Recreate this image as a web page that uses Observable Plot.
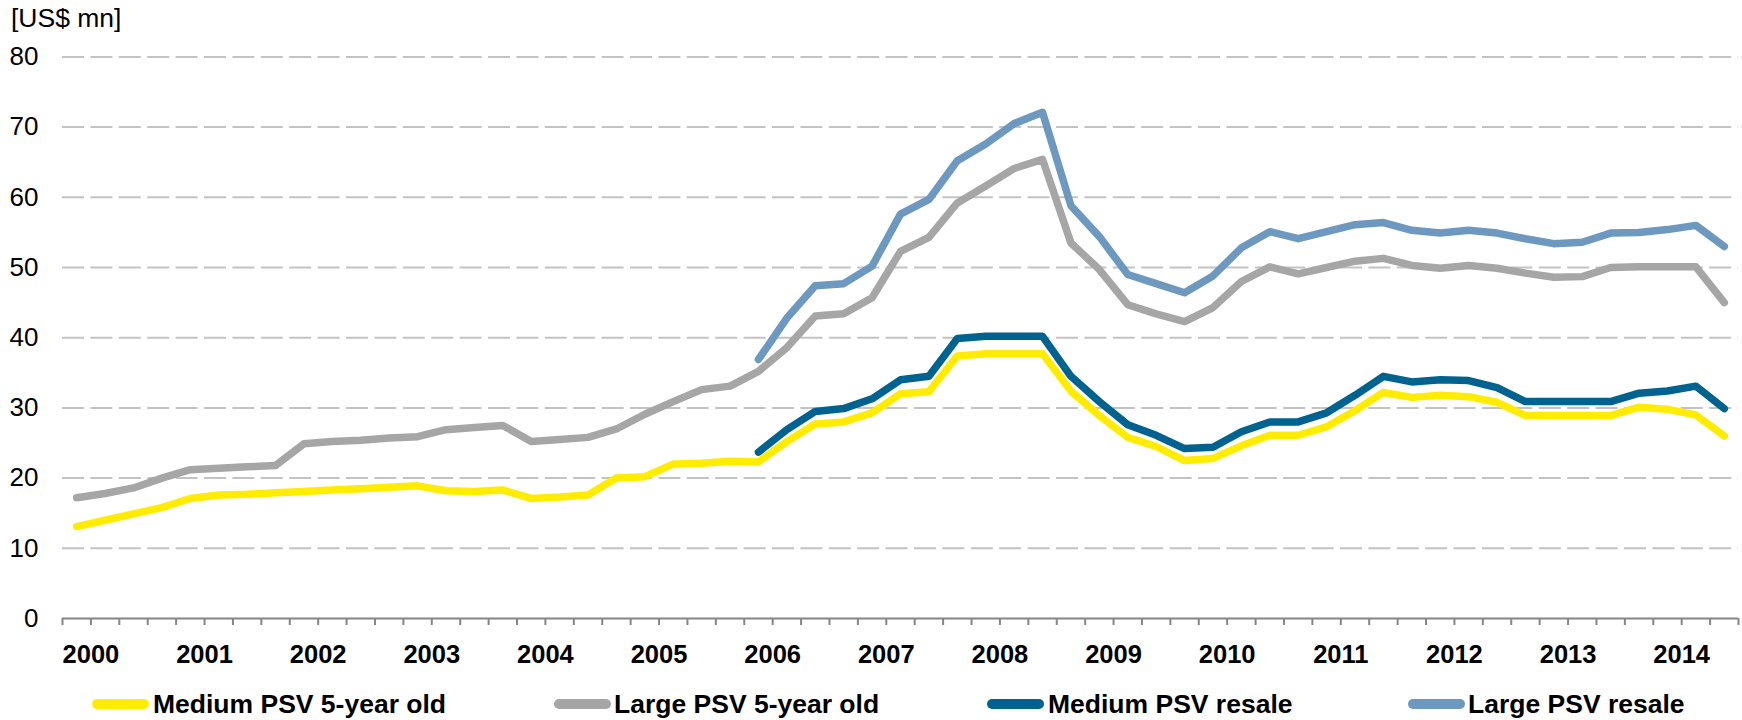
<!DOCTYPE html>
<html>
<head>
<meta charset="utf-8">
<script src="https://cdn.jsdelivr.net/npm/d3@7"></script>
<script src="https://cdn.jsdelivr.net/npm/@observablehq/plot@0.6"></script>
<style>
  html, body { margin: 0; padding: 0; background: #fff; }
  #wrap { width: 1742px; height: 720px; position: relative; overflow: hidden;
          font-family: "Liberation Sans", Arial, Helvetica, sans-serif; color: #000; }
  #title { height: 36px; line-height: 36px; padding-left: 11px; font-size: 26.5px; }
  #chart svg { display: block; }
  #chart svg [aria-label="x-axis tick label"] text { font-weight: bold; }
  #legend { position: relative; height: 50px; }
  .sw { position: absolute; width: 57px; height: 10px; border-radius: 5px; top: 29px; }
  .lt { position: absolute; top: 19px; font-size: 26.5px; font-weight: bold; line-height: 30px; white-space: nowrap; }
</style>
</head>
<body>
<div id="wrap">
  <div id="title">[US$ mn]</div>
  <div id="chart"></div>
  <div id="legend"></div>
</div>
<script>
// ---- data (quarterly categories) ----
const seriesNames = ["Medium PSV 5-year old", "Large PSV 5-year old", "Medium PSV resale", "Large PSV resale"];
const seriesColors = ["#FFEC00", "#A6A6A6", "#00628F", "#6D98BF"];

const yearLabels = ["2000","2001","2002","2003","2004","2005","2006","2007","2008","2009","2010","2011","2012","2013","2014"];
const yTicks = [0, 10, 20, 30, 40, 50, 60, 70, 80];

const mediumOld = [13.1,14.0,14.9,15.8,17.1,17.6,17.7,17.9,18.1,18.3,18.5,18.7,18.9,18.2,18.1,18.3,17.1,17.3,17.6,20.0,
  20.2,22.0,22.1,22.4,22.3,25.2,27.7,28.0,29.3,32.0,32.3,37.4,37.7,37.7,37.7,32.4,28.9,25.8,24.5,22.5,
  22.8,24.6,26.1,26.1,27.3,29.6,32.2,31.5,31.8,31.6,30.8,28.9,28.9,28.9,28.9,30.1,29.8,29.0,26.0];
const largeOld = [17.2,17.8,18.6,20.0,21.2,21.4,21.6,21.8,24.9,25.2,25.4,25.7,25.9,26.9,27.2,27.5,25.2,25.5,25.8,27.0,
  29.1,30.9,32.6,33.1,35.2,38.6,43.1,43.4,45.7,52.3,54.3,59.2,61.6,64.1,65.4,53.5,49.7,44.7,43.4,42.3,
  44.3,48.0,50.1,49.1,50.0,50.9,51.3,50.3,49.9,50.3,49.9,49.2,48.6,48.7,50.0,50.1,50.1,50.1,45.0];
// resale series start at quarter index 24
const resaleStart = 24;
const mediumResale = [23.7,26.9,29.5,29.9,31.3,34.0,34.5,39.9,40.2,40.2,40.2,34.5,30.9,27.6,26.1,24.2,24.4,26.6,28.0,28.0,
  29.3,31.8,34.5,33.7,34.0,33.9,32.9,30.9,30.9,30.9,30.9,32.1,32.4,33.1,29.9];
const largeResale = [36.9,42.8,47.4,47.7,50.2,57.6,59.7,65.2,67.6,70.5,72.1,58.8,54.4,49.0,47.7,46.4,48.8,52.8,55.1,54.1,
  55.1,56.1,56.4,55.3,54.9,55.3,54.9,54.1,53.4,53.6,54.9,55.0,55.4,56.0,53.0];

const nCategories = mediumOld.length; // 59 quarters

// ---- build table ----
const seriesValues = [[mediumOld, 0], [largeOld, 0], [mediumResale, resaleStart], [largeResale, resaleStart]];
const rows = [];
seriesValues.forEach(([vals, start], s) => {
  vals.forEach((v, j) => rows.push({ q: start + j, x: start + j + 0.5, v, s: seriesNames[s] }));
});

// year labels sit on every 4th tick boundary starting at boundary 1
const labelPos = yearLabels.map((_, k) => 1 + 4 * k);
const labelAt = new Map(labelPos.map((p, k) => [p, yearLabels[k]]));

const axisGray = "#868686";

const chart = Plot.plot({
  width: 1742,
  height: 634,
  marginLeft: 62,
  marginRight: 4,
  marginTop: 20.4,
  marginBottom: 52,
  style: { fontFamily: '"Liberation Sans", Arial, sans-serif', color: "#000", background: "#fff", overflow: "visible" },
  x: { domain: [0, nCategories], axis: null },
  y: { domain: [0, 80], axis: null },
  color: { domain: seriesNames, range: seriesColors },
  marks: [
    Plot.ruleY(yTicks.filter(d => d > 0), { stroke: "#c3c3c3", strokeWidth: 2, strokeDasharray: "22,6.4" }),
    Plot.axisY(yTicks, { tickSize: 0, tickPadding: 24, fontSize: 26, tickFormat: d => String(d), label: null }),
    Plot.axisX(d3.range(0, nCategories + 1), { tickSize: 7, tickFormat: () => "", stroke: axisGray, strokeWidth: 2, label: null }),
    Plot.ruleY([0], { stroke: axisGray, strokeWidth: 2 }),
    Plot.axisX(labelPos, { tickSize: 0, tickPadding: 26, fontSize: 25.5, fontWeight: "bold", tickFormat: d => labelAt.get(d), label: null }),
    Plot.line(rows, {
      x: "x", y: "v", z: "s", stroke: "s",
      strokeWidth: 7.5, strokeLinejoin: "round", strokeLinecap: "round"
    })
  ]
});
document.getElementById("chart").appendChild(chart);

// ---- legend ----
const legendSwatchX = [92, 554, 987, 1408];
const legendTextX = [153, 614, 1048, 1468];
const legend = document.getElementById("legend");
seriesNames.forEach((name, i) => {
  const sw = document.createElement("div");
  sw.className = "sw";
  sw.style.left = legendSwatchX[i] + "px";
  sw.style.background = seriesColors[i];
  legend.appendChild(sw);
  const t = document.createElement("div");
  t.className = "lt";
  t.style.left = legendTextX[i] + "px";
  t.textContent = name;
  legend.appendChild(t);
});
</script>
</body>
</html>
